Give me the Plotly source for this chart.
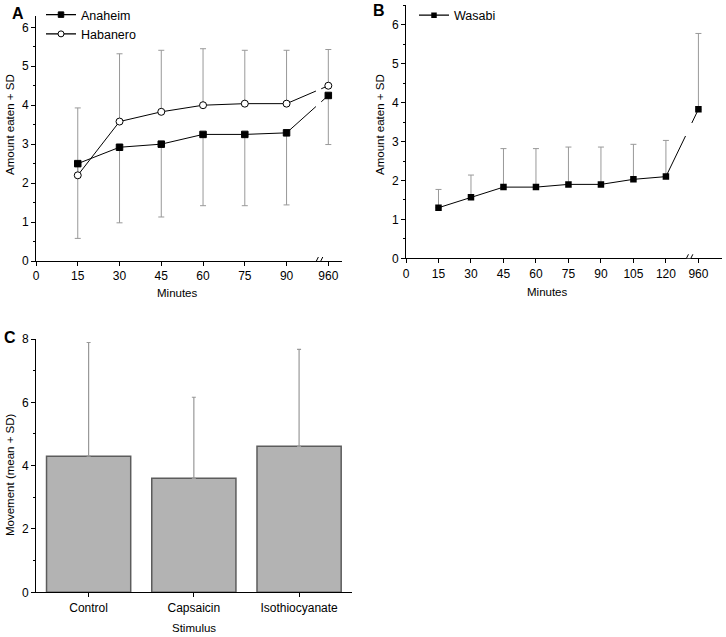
import plotly.graph_objects as go

# ---------------- data ----------------
minutes_a = ["15", "30", "45", "60", "75", "90", "960"]
anaheim_mean = [2.50, 2.92, 3.00, 3.25, 3.25, 3.29, 4.25]
anaheim_sd = [1.92, 1.94, 1.87, 1.83, 1.83, 1.85, 1.26]      # drawn downward
habanero_mean = [2.20, 3.58, 3.83, 4.00, 4.04, 4.04, 4.50]
habanero_sd = [1.73, 1.74, 1.58, 1.45, 1.37, 1.37, 0.93]     # drawn upward

minutes_b = ["15", "30", "45", "60", "75", "90", "105", "120", "960"]
wasabi_mean = [1.30, 1.57, 1.83, 1.83, 1.90, 1.90, 2.03, 2.10, 3.83]
wasabi_sd = [0.47, 0.57, 0.99, 0.99, 0.96, 0.96, 0.90, 0.93, 1.95]

stimulus = ["Control", "Capsaicin", "Isothiocyanate"]
movement_mean = [4.30, 3.60, 4.61]
movement_sd = [3.59, 2.56, 3.06]

# ---------------- helpers ----------------
W, H = 726, 637
FONT = "Liberation Sans, Arial, sans-serif"
ERR = "#999999"


def px_x(p):
    return p / W


def px_y(p):
    return 1 - p / H


def positions(labels):
    # evenly spaced slots of 15 on the axis (last slot holds the broken-axis value)
    return [15 * (i + 1) for i in range(len(labels))]


def broken_line(xs, ys, brk, half):
    x0, x1 = xs[-2], xs[-1]
    y0, y1 = ys[-2], ys[-1]

    def interp(x):
        return y0 + (y1 - y0) * (x - x0) / (x1 - x0)

    bx = list(xs[:-1]) + [brk - half, None, brk + half, x1]
    by = list(ys[:-1]) + [interp(brk - half), None, interp(brk + half), y1]
    return bx, by


pos_a = positions(minutes_a)
pos_b = positions(minutes_b)
BRK_A, BRK_B = 101.5, 130.5
GAP_A, GAP_B = 0.95, 1.45

fig = go.Figure()

# ---------- Panel A ----------
fig.add_trace(go.Scatter(
    x=pos_a, y=habanero_mean, mode="markers", marker=dict(size=1, opacity=0),
    error_y=dict(type="data", symmetric=False, array=habanero_sd,
                 arrayminus=[0] * len(habanero_sd), color=ERR, thickness=1, width=3),
    showlegend=False, hoverinfo="skip", xaxis="x", yaxis="y"))
fig.add_trace(go.Scatter(
    x=pos_a, y=anaheim_mean, mode="markers", marker=dict(size=1, opacity=0),
    error_y=dict(type="data", symmetric=False, array=[0] * len(anaheim_sd),
                 arrayminus=anaheim_sd, color=ERR, thickness=1, width=3),
    showlegend=False, hoverinfo="skip", xaxis="x", yaxis="y"))

for mean in (habanero_mean, anaheim_mean):
    lx, ly = broken_line(pos_a, mean, BRK_A, GAP_A)
    fig.add_trace(go.Scatter(x=lx, y=ly, mode="lines", line=dict(color="black", width=1),
                             showlegend=False, hoverinfo="skip", xaxis="x", yaxis="y"))
for mean, name, sym, fill, size in [(anaheim_mean, "Anaheim", "square", "black", 6.5),
                                    (habanero_mean, "Habanero", "circle", "white", 7)]:
    fig.add_trace(go.Scatter(x=pos_a, y=mean, mode="markers",
                             marker=dict(symbol=sym, size=size, color=fill,
                                         line=dict(color="black", width=1)),
                             showlegend=False, xaxis="x", yaxis="y"))
    fig.add_trace(go.Scatter(x=[None], y=[None], mode="lines+markers", name=name,
                             line=dict(color="black", width=1.3),
                             marker=dict(symbol=sym, size=size - 1, color=fill,
                                         line=dict(color="black", width=1)),
                             legend="legend", xaxis="x", yaxis="y"))

# ---------- Panel B ----------
fig.add_trace(go.Scatter(
    x=pos_b, y=wasabi_mean, mode="markers", marker=dict(size=1, opacity=0),
    error_y=dict(type="data", symmetric=False, array=wasabi_sd,
                 arrayminus=[0] * len(wasabi_sd), color=ERR, thickness=1, width=3),
    showlegend=False, hoverinfo="skip", xaxis="x2", yaxis="y2"))
lx, ly = broken_line(pos_b, wasabi_mean, BRK_B, GAP_B)
fig.add_trace(go.Scatter(x=lx, y=ly, mode="lines", line=dict(color="black", width=1),
                         showlegend=False, hoverinfo="skip", xaxis="x2", yaxis="y2"))
fig.add_trace(go.Scatter(x=pos_b, y=wasabi_mean, mode="markers",
                         marker=dict(symbol="square", size=6.5, color="black"),
                         showlegend=False, xaxis="x2", yaxis="y2"))
fig.add_trace(go.Scatter(x=[None], y=[None], mode="lines+markers", name="Wasabi",
                         line=dict(color="black", width=1.3),
                         marker=dict(symbol="square", size=5.5, color="black"),
                         legend="legend2", xaxis="x2", yaxis="y2"))

# ---------- Panel C ----------
fig.add_trace(go.Bar(
    x=stimulus, y=movement_mean, width=0.8,
    marker=dict(color="#b3b3b3", line=dict(color="#5c5c5c", width=1.5)),
    error_y=dict(type="data", symmetric=False, array=movement_sd,
                 arrayminus=[0] * len(movement_sd), color=ERR, thickness=1.2, width=2),
    showlegend=False, xaxis="x3", yaxis="y3"))

# ---------------- axes ----------------
tickfont = dict(family=FONT, size=12, color="black")
common = dict(showline=True, linecolor="black", linewidth=1, ticks="outside",
              ticklen=4, tickwidth=1, tickcolor="black", showgrid=False,
              zeroline=False, tickfont=tickfont, fixedrange=True, automargin=False)

fig.update_layout(
    xaxis=dict(**common, domain=[px_x(36), px_x(36 + 110 * 2.784)], range=[0, 110],
               tickvals=[0] + pos_a, ticktext=["0"] + minutes_a, anchor="y"),
    yaxis=dict(**common, domain=[px_y(261), px_y(261 - 6.3 * 38.95)], range=[0, 6.3],
               tickvals=[0, 1, 2, 3, 4, 5, 6], anchor="x",
               minor=dict(dtick=0.5, ticks="outside", ticklen=2.5, tickcolor="black")),
    xaxis2=dict(**common, domain=[px_x(406), px_x(406 + 146 * 2.166)], range=[0, 146],
                tickvals=[0] + pos_b, ticktext=["0"] + minutes_b, anchor="y2"),
    yaxis2=dict(**common, domain=[px_y(258.3), px_y(258.3 - 6.5 * 38.9)], range=[0, 6.5],
                tickvals=[0, 1, 2, 3, 4, 5, 6], anchor="x2",
                minor=dict(dtick=0.5, ticks="outside", ticklen=2.5, tickcolor="black")),
    xaxis3=dict(**common, domain=[px_x(36), px_x(351.7)], range=[-0.5, 2.5],
                anchor="y3", type="category"),
    yaxis3=dict(**common, domain=[px_y(592.3), px_y(339)], range=[0, 8],
                tickvals=[0, 2, 4, 6, 8], anchor="x3",
                minor=dict(dtick=1, ticks="outside", ticklen=2.5, tickcolor="black")),
)

# ---------------- axis breaks ----------------
shapes = []
for xr, yr, brk in [("x", "y", BRK_A), ("x2", "y2", BRK_B)]:
    shapes.append(dict(type="rect", xref=xr, yref=yr, xsizemode="pixel", ysizemode="pixel",
                       xanchor=brk, yanchor=0, x0=-2.2, x1=2.2, y0=-1.5, y1=1.5,
                       fillcolor="white", line=dict(width=0), layer="above"))
    for off in (-2.2, 2.2):
        shapes.append(dict(type="line", xref=xr, yref=yr, xsizemode="pixel", ysizemode="pixel",
                           xanchor=brk, yanchor=0, x0=off - 2, x1=off + 2, y0=-4, y1=4,
                           line=dict(color="black", width=1), layer="above"))
fig.update_layout(shapes=shapes)

# ---------------- text ----------------
def ann(text, x, y, size=11.5, bold=False, angle=0):
    return dict(text=f"<b>{text}</b>" if bold else text, x=px_x(x), y=px_y(y),
                xref="paper", yref="paper", showarrow=False, textangle=angle,
                xanchor="center", yanchor="middle",
                font=dict(family=FONT, size=size, color="black"))


fig.update_layout(annotations=[
    ann("A", 17.5, 13, size=16, bold=True),
    ann("B", 378.5, 10.5, size=16, bold=True),
    ann("C", 9.5, 337, size=16, bold=True),
    ann("Amount eaten + SD", 10, 125, angle=-90),
    ann("Amount eaten + SD", 380, 124, angle=-90),
    ann("Movement (mean + SD)", 10, 475, angle=-90),
    ann("Minutes", 177, 293),
    ann("Minutes", 547, 292),
    ann("Stimulus", 194, 628),
])

legend_common = dict(bgcolor="rgba(0,0,0,0)", borderwidth=0, xanchor="left",
                     yanchor="top", font=dict(family=FONT, size=12.5, color="black"),
                     tracegroupgap=0, itemclick=False, itemdoubleclick=False)
fig.update_layout(
    legend=dict(**legend_common, x=px_x(41), y=px_y(-0.5)),
    legend2=dict(**legend_common, x=px_x(414), y=px_y(0.5)),
)

fig.update_layout(width=W, height=H, autosize=False,
                  margin=dict(l=0, r=0, t=0, b=0),
                  paper_bgcolor="white", plot_bgcolor="white",
                  font=dict(family=FONT, color="black"),
                  bargap=0.2)

fig.write_html("out.html", config={"displayModeBar": False},
               post_script="document.body.style.margin='0';document.body.style.padding='0';")
